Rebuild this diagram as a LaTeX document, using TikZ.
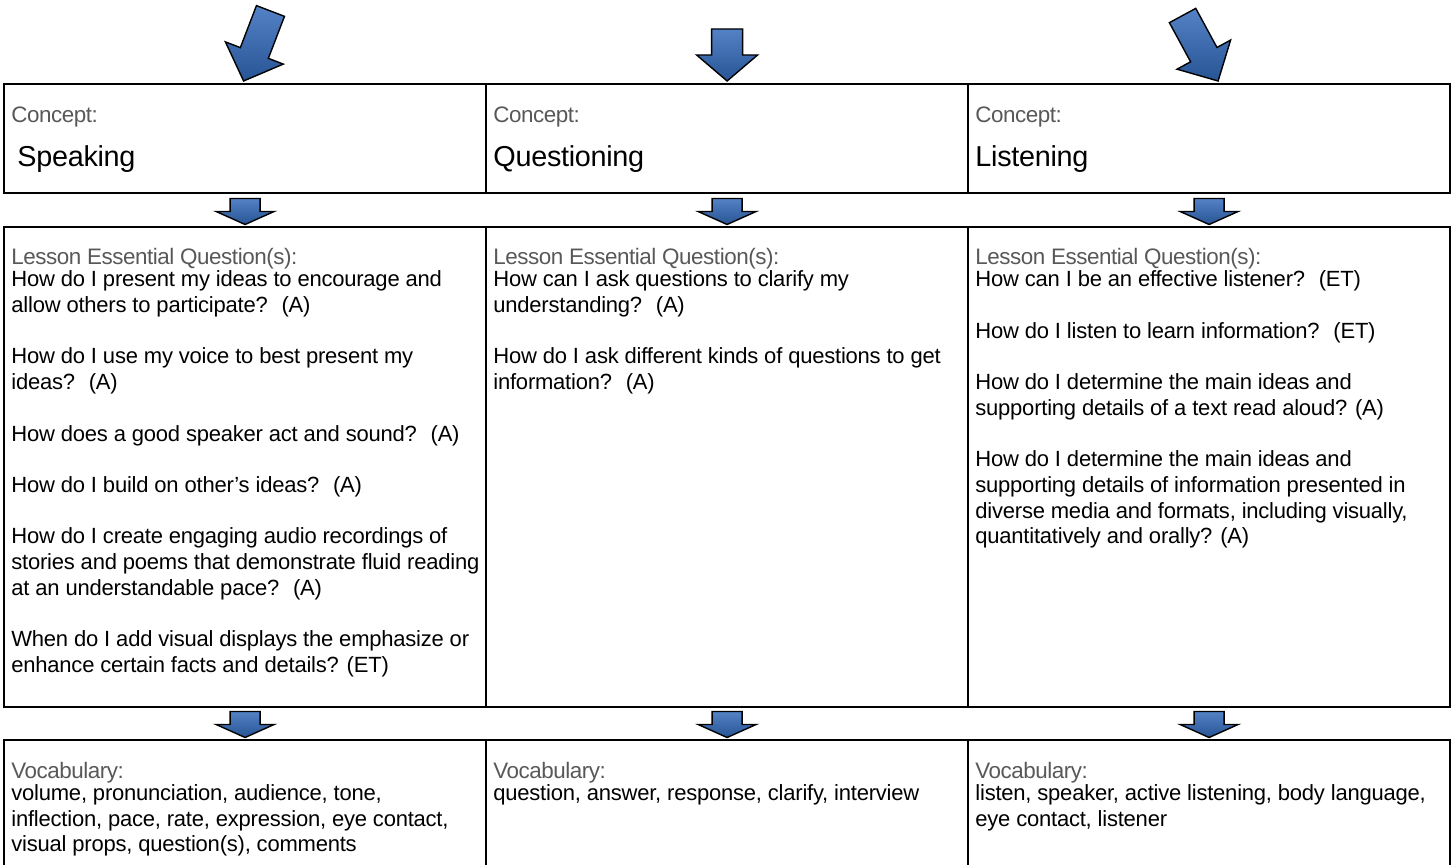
\documentclass[tikz,border=0pt]{standalone}
\usepackage{fontspec}
\setmainfont{Liberation Sans}[LetterSpace=-1]
\newfontfamily\labelfont[LetterSpace=-2]{Liberation Sans}
\usepackage{tikz}
\definecolor{labelgray}{RGB}{88,88,88}
\definecolor{arrowtop}{RGB}{84,130,198}
\definecolor{arrowbot}{RGB}{38,84,148}
\newcommand{\topstrut}{\rule{0pt}{10pt}}

\begin{document}
\begin{tikzpicture}[x=0.5pt, y=-0.5pt,  % 1 единица = 1 пиксель, ось y вниз
    box/.style={draw, line width=1.1pt, minimum width=241pt, anchor=north west, inner sep=0pt},
    headtext/.style={anchor=base west, inner sep=0pt, text=labelgray, font=\labelfont\fontsize{11.2}{13}\selectfont},
    titletext/.style={anchor=base west, inner sep=0pt, font=\fontsize{14.4}{17}\selectfont},
    bodytext/.style={anchor=north west, inner sep=0pt, align=left, font=\fontsize{11}{12.85}\selectfont},
    arrowfill/.style={draw=black, line width=0.7pt, top color=arrowtop, bottom color=arrowbot},
    pics/blockarrow/.style n args={4}{code={
        \draw[arrowfill] (0,0) -- (-#1,-#2) -- (-#3,-#2) -- (-#3,-#4) -- (#3,-#4) -- (#3,-#2) -- (#1,-#2) -- cycle;
    }}]
    \useasboundingbox (0,0) rectangle (1452,865);
    \clip (0,0) rectangle (1452,865);

    % Три колонки: понятие, вопросы, словарь
    \foreach \x [count=\i] in {3,485,967} {
        \node[box, minimum height=54.5pt] (concept\i) at (\x,83) {};
        \node[box, minimum height=240pt] (lesson\i) at (\x,226) {};
        \node[box, minimum height=85pt] (vocab\i) at (\x,739) {};
        \node[headtext] (conhead\i) at ([shift={(8,39.5)}]concept\i.north west) {Concept:};
        % Маленькие стрелки между блоками
        \pic at ([yshift=0.75pt]lesson\i.north) {blockarrow={29}{13}{15}{26}};
        \pic at ([yshift=0.75pt]vocab\i.north) {blockarrow={29}{13}{15}{26}};
    }

    % Большие стрелки сверху
    \pic[rotate=-21] at ([shift={(-1.5,-2)}]concept1.north) {blockarrow={31}{30}{15}{75}};
    \pic at ([shift={(0,-2)}]concept2.north) {blockarrow={30.5}{26}{15.5}{52}};
    \pic[rotate=28.5] at ([shift={(9,-2)}]concept3.north) {blockarrow={30.5}{30}{15}{74.5}};

    % Названия понятий
    \node[titletext] (speaking) at ([shift={(14,84)}]concept1.north west) {Speaking};
    \node[titletext] (questioning) at ([shift={(8,84)}]concept2.north west) {Questioning};
    \node[titletext] (listening) at ([shift={(8,84)}]concept3.north west) {Listening};

    % Вопросы урока
    \node[bodytext] (lessontext1) at ([shift={(8,18.5)}]lesson1.north west) {\topstrut{\labelfont\color{labelgray}\fontsize{11.2}{13}\selectfont Lesson Essential Question(s):}\\[-1.85pt]
        How do I present my ideas to encourage and\\
        allow others to participate?~ (A)\\[12.85pt]
        How do I use my voice to best present my\\
        ideas?~ (A)\\[12.85pt]
        How does a good speaker act and sound?~ (A)\\[12.85pt]
        How do I build on other's ideas?~ (A)\\[12.85pt]
        How do I create engaging audio recordings of\\
        stories and poems that demonstrate fluid reading\\
        at an understandable pace?~ (A)\\[12.85pt]
        When do I add visual displays the emphasize or\\
        enhance certain facts and details? (ET)};
    \node[bodytext] (lessontext2) at ([shift={(8,18.5)}]lesson2.north west) {\topstrut{\labelfont\color{labelgray}\fontsize{11.2}{13}\selectfont Lesson Essential Question(s):}\\[-1.85pt]
        How can I ask questions to clarify my\\
        understanding?~ (A)\\[12.85pt]
        How do I ask different kinds of questions to get\\
        information?~ (A)};
    \node[bodytext] (lessontext3) at ([shift={(8,18.5)}]lesson3.north west) {\topstrut{\labelfont\color{labelgray}\fontsize{11.2}{13}\selectfont Lesson Essential Question(s):}\\[-1.85pt]
        How can I be an effective listener?~ (ET)\\[12.85pt]
        How do I listen to learn information?~ (ET)\\[12.85pt]
        How do I determine the main ideas and\\
        supporting details of a text read aloud? (A)\\[12.85pt]
        How do I determine the main ideas and\\
        supporting details of information presented in\\
        diverse media and formats, including visually,\\
        quantitatively and orally? (A)};

    % Словарь
    \node[bodytext] (vocabtext1) at ([shift={(8,19)}]vocab1.north west) {\topstrut{\labelfont\color{labelgray}\fontsize{11.2}{13}\selectfont Vocabulary:}\\[-1.85pt]
        volume, pronunciation, audience, tone,\\
        inflection, pace, rate, expression, eye contact,\\
        visual props, question(s), comments};
    \node[bodytext] (vocabtext2) at ([shift={(8,19)}]vocab2.north west) {\topstrut{\labelfont\color{labelgray}\fontsize{11.2}{13}\selectfont Vocabulary:}\\[-1.85pt]
        question, answer, response, clarify, interview};
    \node[bodytext] (vocabtext3) at ([shift={(8,19)}]vocab3.north west) {\topstrut{\labelfont\color{labelgray}\fontsize{11.2}{13}\selectfont Vocabulary:}\\[-1.85pt]
        listen, speaker, active listening, body language,\\
        eye contact, listener};
\end{tikzpicture}
\end{document}
